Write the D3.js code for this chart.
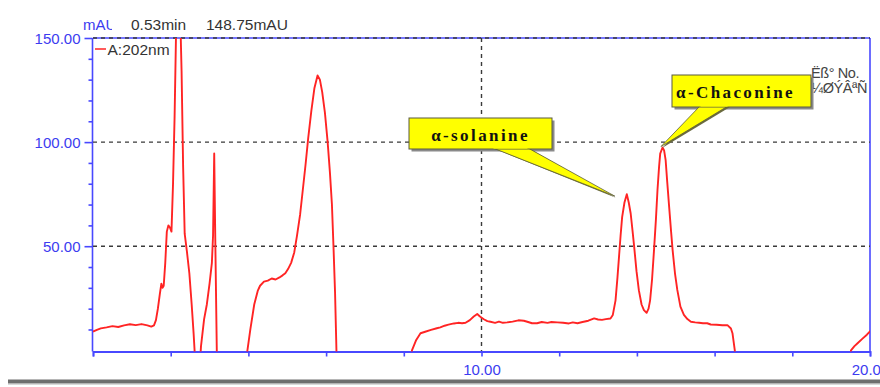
<!DOCTYPE html>
<html>
<head>
<meta charset="utf-8">
<script src="https://cdn.jsdelivr.net/npm/d3@7/dist/d3.min.js"></script>
<style>
  html, body { margin: 0; padding: 0; background: #fff; }
  svg { display: block; }
</style>
</head>
<body>
<svg id="chart" width="880" height="387"></svg>
<script>
// Retention time (min) of each sample of the 202 nm trace
const times = [
  0.00, 0.10, 0.20, 0.35, 0.50, 0.65, 0.80, 0.95, 1.10, 1.25, 1.40, 1.50, 1.57, 1.62, 1.67, 1.72,
  1.76, 1.79, 1.82, 1.86, 1.90, 1.94, 1.98, 2.02, 2.06, 2.10, 2.14, 2.19, 2.24, 2.28, 2.32, 2.36,
  2.42, 2.48, 2.54, 2.59, 2.63, 2.68, 2.74, 2.78, 2.86, 2.93, 3.00, 3.06, 3.09, 3.12, 3.15, 3.19,
  3.25, 3.90, 3.96, 4.05, 4.15, 4.24, 4.30, 4.40, 4.50, 4.60, 4.70, 4.80, 4.88, 4.95, 5.02, 5.10,
  5.18, 5.25, 5.33, 5.40, 5.47, 5.54, 5.62, 5.70, 5.78, 5.84, 5.90, 5.97, 6.04, 6.10, 6.15, 6.19,
  6.23, 6.26, 6.29, 8.10, 8.21, 8.32, 8.43, 8.55, 8.70, 8.85, 8.94, 9.05, 9.15, 9.29, 9.40, 9.50,
  9.59, 9.70, 9.80, 9.89, 9.96, 10.06, 10.15, 10.23, 10.35, 10.45, 10.55, 10.66, 10.80, 10.95, 11.09, 11.20,
  11.30, 11.43, 11.55, 11.70, 11.80, 11.95, 12.10, 12.25, 12.35, 12.47, 12.60, 12.75, 12.90, 13.00, 13.10, 13.20,
  13.32, 13.38, 13.45, 13.50, 13.54, 13.58, 13.62, 13.68, 13.74, 13.79, 13.84, 13.89, 13.93, 13.99, 14.05, 14.12,
  14.18, 14.25, 14.30, 14.34, 14.39, 14.44, 14.49, 14.53, 14.57, 14.60, 14.66, 14.70, 14.74, 14.78, 14.83, 14.88,
  14.92, 14.98, 15.04, 15.12, 15.21, 15.30, 15.39, 15.50, 15.60, 15.70, 15.81, 15.90, 16.05, 16.20, 16.33, 16.42,
  16.46, 16.52, 16.56, 19.45, 19.51, 19.60, 19.68, 19.80, 19.92, 20.03
];

// Absorbance (mAU) at each retention time
const absorbance = [
  9.0, 9.8, 10.5, 11.0, 11.6, 11.2, 12.0, 12.5, 12.1, 12.6, 12.0, 11.4, 12.0, 14.5, 20.0, 27.0,
  32.0, 30.0, 31.0, 42.0, 57.0, 60.0, 59.0, 57.0, 80.0, 112.0, 155.0, 180.0, 165.0, 134.0, 88.0, 56.0,
  47.0, 37.0, 22.0, 8.0, -5.0, -20.0, -10.0, 2.0, 15.0, 22.0, 32.0, 42.0, 55.0, 94.5, 50.0, -5.0,
  -20.0, -20.0, -2.0, 10.0, 22.0, 28.5, 31.0, 33.0, 33.5, 34.5, 34.0, 35.0, 36.0, 37.0, 39.0, 42.0,
  47.0, 55.0, 65.0, 77.0, 89.0, 102.0, 115.0, 126.0, 132.0, 130.0, 124.0, 114.0, 100.0, 85.0, 70.0, 50.0,
  28.0, 5.0, -20.0, -20.0, 0.0, 5.0, 8.2, 8.9, 9.8, 10.6, 11.0, 11.8, 12.3, 12.9, 13.2, 13.0,
  13.2, 14.5, 16.2, 17.4, 16.2, 14.9, 14.0, 13.7, 13.2, 13.8, 13.2, 13.4, 13.8, 14.4, 14.2, 13.6,
  13.0, 13.0, 13.6, 13.2, 13.6, 13.4, 13.2, 12.9, 13.4, 13.0, 13.6, 14.2, 15.3, 14.8, 14.6, 15.0,
  15.3, 17.0, 24.0, 35.0, 45.0, 55.0, 64.0, 71.0, 75.0, 71.0, 65.7, 57.0, 49.7, 38.0, 28.9, 22.0,
  19.3, 18.0, 20.0, 24.0, 34.0, 48.0, 63.0, 77.0, 88.0, 94.5, 97.4, 96.0, 91.3, 81.0, 68.9, 57.0,
  48.0, 37.0, 29.0, 21.0, 17.0, 15.0, 13.7, 13.4, 13.2, 13.0, 13.0, 12.4, 12.3, 12.0, 12.1, 10.5,
  8.2, 0.0, -20.0, -20.0, 0.0, 2.0, 3.4, 5.5, 7.5, 9.7
];

// Axis ticks and labels
const xTicks = [0, 2, 4, 6, 8, 10, 12, 14, 16, 18, 20];
const xLabelled = [10, 20];
const yTicks = [10, 20, 30, 40, 50, 60, 70, 80, 90, 100, 110, 120, 130, 140, 150];
const yLabelled = [50, 100, 150];
const yGrid = [50, 100, 150];
const xGrid = [10];

// Peak annotations
const peakNames = ["α-solanine", "α-Chaconine"];
const peakTimes = [13.74, 14.66];
const peakHeights = [75.0, 97.4];

// Header / legend text
const headerUnit = "mAU";
const headerCursor = ["0.53min", "148.75mAU"];
const legendName = "A:202nm";
const sideNote = ["Ëß° No.", "¼ØÝÂªÑ"];

const AXIS = "#4848ff";
const AXIS_TEXT = "#3c3cf0";
const TRACE = "#ff2424";

const svg = d3.select("#chart");
const plot = { left: 93, right: 870, top: 38, bottom: 351.5 };

const x = d3.scaleLinear().domain([0, 20]).range([plot.left, plot.right]);
const y = d3.scaleLinear().domain([0, 150]).range([350.3, plot.top]);

// window edge at the bottom
svg.append("rect").attr("x", 8).attr("y", 379.5).attr("width", 872).attr("height", 3.5).attr("fill", "#6e6e6e");
svg.append("rect").attr("x", 8).attr("y", 383).attr("width", 872).attr("height", 1.5).attr("fill", "#b4b4b4");

const defs = svg.append("defs");
defs.append("clipPath").attr("id", "plotClip")
  .append("rect")
  .attr("x", plot.left).attr("y", plot.top)
  .attr("width", plot.right - plot.left).attr("height", plot.bottom - plot.top);
defs.append("clipPath").attr("id", "unitClip")
  .append("rect").attr("x", 70).attr("y", 10).attr("width", 42).attr("height", 26);

// frame: left, right and top borders in blue
svg.append("line").attr("x1", plot.left - 0.5).attr("x2", plot.left - 0.5)
  .attr("y1", plot.top).attr("y2", plot.bottom).attr("stroke", AXIS).attr("stroke-width", 1.6);
svg.append("line").attr("x1", plot.right).attr("x2", plot.right)
  .attr("y1", plot.top).attr("y2", plot.bottom).attr("stroke", AXIS).attr("stroke-width", 1.6);
svg.append("line").attr("x1", plot.left).attr("x2", plot.right)
  .attr("y1", plot.top).attr("y2", plot.top).attr("stroke", AXIS).attr("stroke-width", 1.6);

// dashed grid
const grid = svg.append("g").attr("stroke", "#3a3a3a").attr("stroke-width", 1.4).attr("stroke-dasharray", "4,4");
grid.selectAll("line.h").data(yGrid).join("line").attr("class", "h")
  .attr("x1", plot.left).attr("x2", plot.right)
  .attr("y1", d => y(d)).attr("y2", d => y(d));
grid.selectAll("line.v").data(xGrid).join("line").attr("class", "v")
  .attr("x1", d => x(d)).attr("x2", d => x(d))
  .attr("y1", plot.top).attr("y2", plot.bottom);

// x axis
const xAxis = d3.axisBottom(x)
  .tickValues(xTicks)
  .tickSize(5)
  .tickPadding(8)
  .tickFormat(d => xLabelled.includes(d) ? d3.format(".2f")(d) : "");
const gx = svg.append("g").attr("transform", `translate(0,${plot.bottom})`).call(xAxis);
gx.select(".domain").attr("stroke", AXIS).attr("stroke-width", 1.8);
gx.selectAll(".tick line").attr("stroke", AXIS).attr("stroke-width", 1.6);
gx.selectAll(".tick text").attr("fill", AXIS_TEXT)
  .attr("font-family", "'Liberation Sans', Arial, sans-serif").attr("font-size", 15);

// y axis
const yAxis = d3.axisLeft(y)
  .tickValues(yTicks)
  .tickSize(4)
  .tickPadding(8)
  .tickFormat(d => yLabelled.includes(d) ? d3.format(".2f")(d) : "");
const gy = svg.append("g").attr("transform", `translate(${plot.left - 0.5},0)`).call(yAxis);
gy.select(".domain").remove();
gy.selectAll(".tick line").attr("stroke", AXIS).attr("stroke-width", 1.6)
  .attr("x2", d => yLabelled.includes(d) ? -8 : -4);
gy.selectAll(".tick text").attr("fill", AXIS_TEXT)
  .attr("font-family", "'Liberation Sans', Arial, sans-serif").attr("font-size", 15)
  .attr("dy", "0.36em");

// chromatogram trace
const trace = times.map((t, i) => [t, absorbance[i]]);
svg.append("g").attr("clip-path", "url(#plotClip)")
  .append("path")
  .datum(trace)
  .attr("fill", "none")
  .attr("stroke", TRACE)
  .attr("stroke-width", 1.9)
  .attr("stroke-linejoin", "round")
  .attr("d", d3.line().x(d => x(d[0])).y(d => y(d[1])));

// header: unit and cursor readout
svg.append("text").attr("clip-path", "url(#unitClip)")
  .attr("x", 83).attr("y", 30).attr("fill", AXIS_TEXT)
  .attr("font-family", "'Liberation Sans', Arial, sans-serif").attr("font-size", 15)
  .text(headerUnit);
svg.append("text").attr("x", 131).attr("y", 30).attr("fill", "#333")
  .attr("font-family", "'Liberation Sans', Arial, sans-serif").attr("font-size", 15.5)
  .text(headerCursor[0]);
svg.append("text").attr("x", 206).attr("y", 30).attr("fill", "#333")
  .attr("font-family", "'Liberation Sans', Arial, sans-serif").attr("font-size", 15.5)
  .text(headerCursor[1]);

// legend
svg.append("line").attr("x1", 95).attr("x2", 106).attr("y1", 49).attr("y2", 49)
  .attr("stroke", TRACE).attr("stroke-width", 1.5);
svg.append("text").attr("x", 107.5).attr("y", 55).attr("fill", "#333")
  .attr("font-family", "'Liberation Sans', Arial, sans-serif").attr("font-size", 15.5)
  .text(legendName);

// side note
sideNote.forEach((s, i) => {
  svg.append("text").attr("x", 811).attr("y", 78 + i * 15).attr("fill", "#444")
    .attr("font-family", "'Liberation Sans', Arial, sans-serif").attr("font-size", 14.5)
    .attr("letter-spacing", -0.4)
    .text(s);
});

// callouts: box position, pointer base on the box's bottom edge, tip at the peak apex
const callouts = [
  { box: [409, 118, 143, 31], base: [493, 528], tipDx: -12, tipDy: 2, textX: 480.5, textY: 141, anchor: "middle" },
  { box: [672, 75, 139, 32], base: [700, 728], tipDx: -1.5, tipDy: -1, textX: 676, textY: 98, anchor: "start" }
];
callouts.forEach((c, i) => {
  const [bx, by, bw, bh] = c.box;
  const tx = x(peakTimes[i]) + c.tipDx;
  const ty = y(peakHeights[i]) + c.tipDy;
  const g = svg.append("g");
  // shadow
  g.append("rect").attr("x", bx + 2.5).attr("y", by + 2.5).attr("width", bw).attr("height", bh).attr("fill", "#8a8a8a");
  g.append("polygon")
    .attr("points", `${c.base[0] + 2},${by + bh} ${c.base[1] + 2},${by + bh} ${tx + 1},${ty + 1.5}`)
    .attr("fill", "#6b6b40");
  // pointer and box
  g.append("polygon")
    .attr("points", `${c.base[0]},${by + bh - 1} ${c.base[1]},${by + bh - 1} ${tx},${ty}`)
    .attr("fill", "#ffff00").attr("stroke", "#5c5c3a").attr("stroke-width", 0.8);
  g.append("rect").attr("x", bx).attr("y", by).attr("width", bw).attr("height", bh)
    .attr("fill", "#ffff00").attr("stroke", "#5a5a40").attr("stroke-width", 1);
  // cover the pointer seam inside the box
  g.append("rect").attr("x", c.base[0] + 0.5).attr("y", by + bh - 2).attr("width", c.base[1] - c.base[0] - 1).attr("height", 1.6)
    .attr("fill", "#ffff00");
  g.append("text").attr("x", c.textX).attr("y", c.textY)
    .attr("text-anchor", c.anchor)
    .attr("font-family", "'Liberation Serif', 'Times New Roman', serif")
    .attr("font-weight", "bold").attr("font-size", 17)
    .attr("letter-spacing", 2.4)
    .attr("fill", "#111")
    .text(peakNames[i]);
});
</script>
</body>
</html>
